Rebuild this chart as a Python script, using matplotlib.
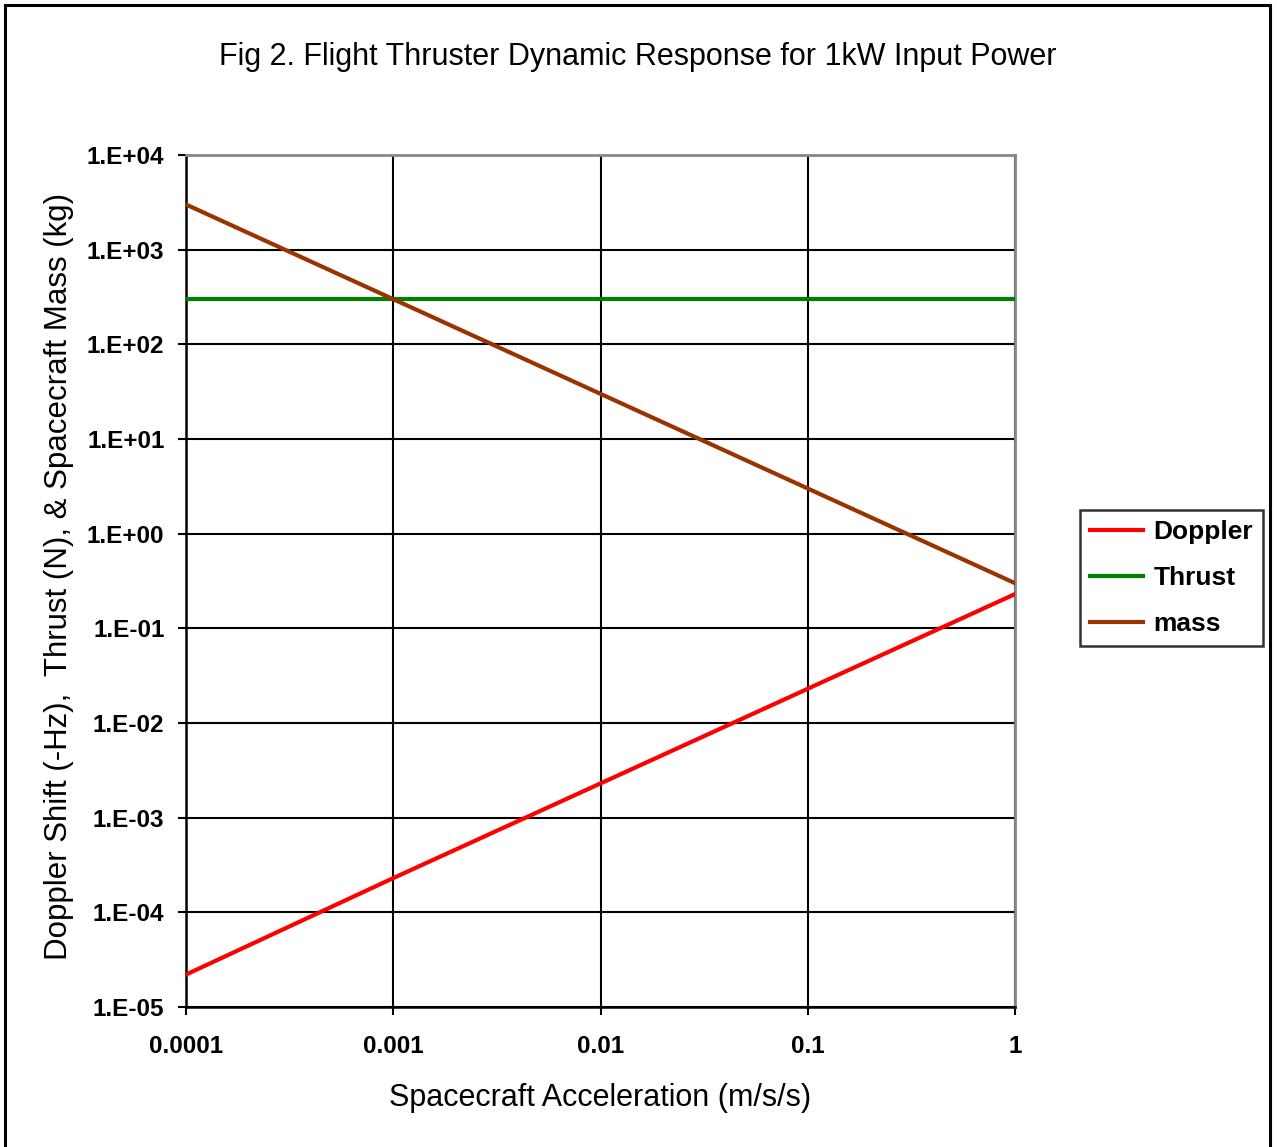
import matplotlib
matplotlib.use("Agg")
import matplotlib.pyplot as plt
from matplotlib.patches import Rectangle
from matplotlib.ticker import FixedLocator, NullLocator

plt.rcParams['font.family'] = ['Liberation Sans', 'DejaVu Sans']

# Data
acceleration = [0.0001, 0.001, 0.01, 0.1, 1]
doppler = [2.2e-5, 2.3e-4, 2.3e-3, 2.3e-2, 2.3e-1]
thrust = [300, 300, 300, 300, 300]
mass = [3000, 300, 30, 3, 0.3]

x_ticks = [0.0001, 0.001, 0.01, 0.1, 1]
x_labels = ["0.0001", "0.001", "0.01", "0.1", "1"]
y_ticks = [1e-5, 1e-4, 1e-3, 1e-2, 1e-1, 1e0, 1e1, 1e2, 1e3, 1e4]
y_labels = ["1.E-05", "1.E-04", "1.E-03", "1.E-02", "1.E-01",
            "1.E+00", "1.E+01", "1.E+02", "1.E+03", "1.E+04"]

W, H = 1277, 1147
fig = plt.figure(figsize=(W / 100, H / 100), dpi=100)
fig.patch.set_facecolor('white')

# outer border
fig.patches.append(Rectangle((5 / W, -0.01), (1270 - 5) / W, 1.01 - 5 / H,
                             transform=fig.transFigure, fill=False,
                             edgecolor='black', linewidth=2.2, zorder=0))

ax = fig.add_axes([186 / W, 1 - 1007 / H, (1015 - 186) / W, (1007 - 155) / H])
ax.set_xscale('log')
ax.set_yscale('log')
ax.set_xlim(1e-4, 1)
ax.set_ylim(1e-5, 1e4)

ax.plot(acceleration, doppler, color='#FF0000', lw=3, label='Doppler', zorder=3)
ax.plot(acceleration, thrust, color='#008000', lw=3, label='Thrust', zorder=3)
ax.plot(acceleration, mass, color='#993300', lw=3, label='mass', zorder=3)

ax.xaxis.set_major_locator(FixedLocator(x_ticks))
ax.xaxis.set_minor_locator(NullLocator())
ax.yaxis.set_major_locator(FixedLocator(y_ticks))
ax.yaxis.set_minor_locator(NullLocator())
ax.set_xticklabels(x_labels, fontsize=17.5, fontweight='bold')
ax.set_yticklabels(y_labels, fontsize=17.5, fontweight='bold')
ax.tick_params(axis='both', direction='out', length=6, width=1.5, color='black')
ax.tick_params(axis='x', pad=14)
ax.tick_params(axis='y', pad=9.5)

ax.grid(True, which='major', color='black', lw=1.5, zorder=1)

ax.spines['left'].set_color('black')
ax.spines['bottom'].set_color('black')
ax.spines['left'].set_linewidth(1.8)
ax.spines['bottom'].set_linewidth(1.8)
ax.spines['top'].set_color('#888888')
ax.spines['right'].set_color('#888888')
ax.spines['top'].set_linewidth(2)
ax.spines['right'].set_linewidth(2)

fig.text(638 / W, 1 - 57 / H, "Fig 2. Flight Thruster Dynamic Response for 1kW Input Power",
         ha='center', va='center', fontsize=22)
fig.text(600 / W, 1 - 1098 / H, "Spacecraft Acceleration (m/s/s)",
         ha='center', va='center', fontsize=22)
fig.text(59 / W, 1 - 576 / H, "Doppler Shift (-Hz),  Thrust (N), & Spacecraft Mass (kg)",
         ha='center', va='center', rotation=90, fontsize=22.5)

leg = fig.legend(loc='center', bbox_to_anchor=(1171.5 / W, 1 - 578 / H),
                 frameon=True, fancybox=False, edgecolor='black',
                 prop={'weight': 'bold', 'size': 19}, handlelength=2.0,
                 handletextpad=0.4, labelspacing=0.83, borderpad=0.38)
leg.get_frame().set_linewidth(1.8)

fig.savefig('out.png', dpi=100)
